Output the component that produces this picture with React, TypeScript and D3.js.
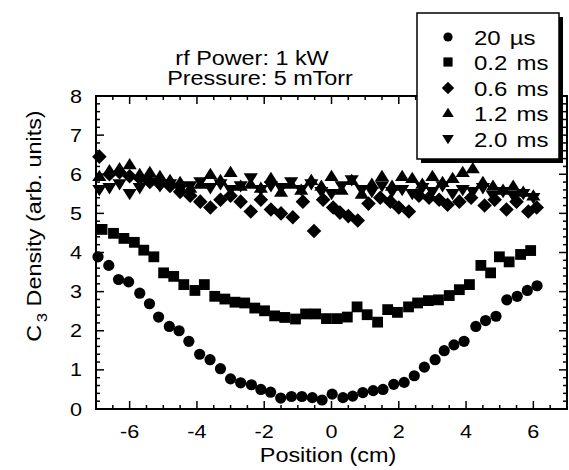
import React, { useEffect, useRef } from "react";
import * as d3 from "d3";

const seriesLabels = ["20 \u00b5s", "0.2 ms", "0.6 ms", "1.2 ms", "2.0 ms"];
const seriesShapes = ["circle", "square", "diamond", "triangle", "invtriangle"];

const s20us: [number, number][] = [
  [-6.94, 3.89], [-6.62, 3.67], [-6.33, 3.31], [-6.03, 3.25], [-5.70, 2.96], [-5.41, 2.69],
  [-5.14, 2.35], [-4.82, 2.11], [-4.53, 2.0], [-4.24, 1.73], [-3.92, 1.4], [-3.61, 1.26],
  [-3.30, 1.03], [-3.0, 0.77], [-2.70, 0.67], [-2.38, 0.62], [-2.10, 0.5], [-1.81, 0.43],
  [-1.51, 0.28], [-1.19, 0.32], [-0.88, 0.32], [-0.57, 0.29], [-0.28, 0.23], [0.02, 0.38],
  [0.34, 0.29], [0.63, 0.33], [0.93, 0.42], [1.24, 0.47], [1.53, 0.5], [1.85, 0.63],
  [2.16, 0.68], [2.46, 0.85], [2.76, 1.07], [3.08, 1.26], [3.35, 1.49], [3.64, 1.64],
  [3.94, 1.73], [4.29, 2.11], [4.58, 2.26], [4.89, 2.37], [5.21, 2.79], [5.52, 2.88],
  [5.82, 3.03], [6.11, 3.15],
];

const s02ms: [number, number][] = [
  [-6.82, 4.59], [-6.48, 4.49], [-6.17, 4.36], [-5.86, 4.26], [-5.58, 4.06], [-5.28, 3.89],
  [-4.99, 3.48], [-4.69, 3.39], [-4.39, 3.18], [-4.06, 3.03], [-3.78, 3.18], [-3.47, 2.88],
  [-3.17, 2.81], [-2.87, 2.73], [-2.58, 2.71], [-2.28, 2.58], [-1.99, 2.51], [-1.69, 2.38],
  [-1.39, 2.34], [-1.07, 2.3], [-0.77, 2.43], [-0.47, 2.43], [-0.15, 2.31], [0.17, 2.31],
  [0.47, 2.35], [0.76, 2.61], [1.06, 2.41], [1.37, 2.22], [1.67, 2.54], [1.96, 2.47],
  [2.29, 2.61], [2.56, 2.71], [2.88, 2.77], [3.18, 2.79], [3.5, 2.9], [3.8, 3.05],
  [4.1, 3.18], [4.44, 3.67], [4.73, 3.48], [4.99, 3.89], [5.28, 3.76], [5.62, 3.95],
  [5.92, 4.05],
];

const s06ms: [number, number][] = [
  [-6.9, 6.45], [-6.6, 6.0], [-6.3, 6.05], [-6.0, 5.95], [-5.7, 5.9], [-5.4, 5.8],
  [-5.1, 5.75], [-4.8, 5.7], [-4.5, 5.55], [-4.2, 5.45], [-3.9, 5.3], [-3.6, 5.15],
  [-3.3, 5.35], [-3.0, 5.45], [-2.7, 5.3], [-2.4, 5.05], [-2.1, 5.35], [-1.8, 5.1],
  [-1.5, 5.0], [-1.15, 4.9], [-0.85, 5.3], [-0.52, 4.55], [-0.25, 5.35], [0.05, 5.15],
  [0.25, 5.02], [0.5, 4.93], [0.78, 4.82], [1.1, 5.25], [1.45, 5.4], [1.75, 5.3],
  [2.0, 5.15], [2.3, 5.05], [2.6, 5.45], [2.9, 5.4], [3.2, 5.35], [3.45, 5.22],
  [3.8, 5.3], [4.15, 5.4], [4.55, 5.2], [4.85, 5.35], [5.2, 5.1], [5.5, 5.3],
  [5.85, 5.05], [6.1, 5.15],
];

const s12ms: [number, number][] = [
  [-6.9, 5.95], [-6.6, 6.1], [-6.3, 6.15], [-6.0, 6.25], [-5.7, 6.0], [-5.4, 6.05],
  [-5.1, 5.95], [-4.8, 5.85], [-4.5, 5.8], [-4.2, 5.65], [-3.9, 5.75], [-3.6, 6.0],
  [-3.3, 5.85], [-3.0, 6.05], [-2.7, 5.7], [-2.4, 5.75], [-2.1, 5.65], [-1.8, 5.9],
  [-1.5, 5.55], [-1.2, 5.75], [-0.9, 5.6], [-0.6, 5.85], [-0.3, 5.7], [0.0, 5.95],
  [0.3, 5.6], [0.6, 5.85], [0.9, 5.5], [1.2, 5.75], [1.5, 5.95], [1.8, 5.7],
  [2.1, 5.95], [2.4, 5.9], [2.7, 5.75], [3.0, 5.95], [3.3, 5.8], [3.6, 5.9],
  [3.9, 6.05], [4.2, 6.15], [4.5, 5.8], [4.8, 5.7], [5.1, 5.6], [5.4, 5.7],
  [5.7, 5.55], [6.0, 5.45],
];

const s20ms: [number, number][] = [
  [-6.9, 5.6], [-6.6, 5.65], [-6.3, 5.75], [-6.0, 5.5], [-5.7, 5.65], [-5.4, 5.8],
  [-5.1, 5.7], [-4.8, 5.75], [-4.5, 5.6], [-4.2, 5.7], [-3.9, 5.8], [-3.6, 5.65],
  [-3.3, 5.75], [-3.0, 5.6], [-2.7, 5.7], [-2.4, 5.9], [-2.1, 5.6], [-1.8, 5.7],
  [-1.5, 5.65], [-1.2, 5.8], [-0.9, 5.6], [-0.6, 5.75], [-0.3, 5.55], [0.0, 5.5],
  [0.3, 5.7], [0.6, 5.85], [0.9, 5.6], [1.2, 5.55], [1.5, 5.7], [1.8, 5.55],
  [2.1, 5.6], [2.4, 5.5], [2.7, 5.65], [3.0, 5.55], [3.3, 5.7], [3.6, 5.5],
  [3.9, 5.6], [4.2, 5.55], [4.5, 5.65], [4.8, 5.45], [5.1, 5.55], [5.4, 5.45],
  [5.7, 5.5], [6.0, 5.4],
];

const allSeries = [s20us, s02ms, s06ms, s12ms, s20ms];
const xTicks = [-6, -4, -2, 0, 2, 4, 6];
const yTicks = [0, 1, 2, 3, 4, 5, 6, 7, 8];

const FONT = "'Liberation Sans', Arial, Helvetica, sans-serif";
const SX = 1.2;

function shapePath(shape: string, s: number): string {
  switch (shape) {
    case "circle":
      return d3.symbol(d3.symbolCircle, Math.PI * s * s)() as string;
    case "square":
      return `M${-s},${-s}L${s},${-s}L${s},${s}L${-s},${s}Z`;
    case "diamond": {
      const d = s * 1.35;
      return `M0,${-d}L${d},0L0,${d}L${-d},0Z`;
    }
    case "triangle": {
      const h = s * 1.15;
      return `M0,${-h}L${h * 1.1},${h * 0.75}L${-h * 1.1},${h * 0.75}Z`;
    }
    default: {
      const h = s * 1.15;
      return `M0,${h}L${h * 1.1},${-h * 0.75}L${-h * 1.1},${-h * 0.75}Z`;
    }
  }
}

function addText(parent: any, x: number, y: number, str: string, size: number, anchor: string, extra = "") {
  return parent
    .append("g")
    .attr("transform", `translate(${x},${y}) ${extra} scale(${SX},1)`)
    .append("text")
    .attr("x", 0)
    .attr("y", 0)
    .attr("text-anchor", anchor)
    .attr("font-family", FONT)
    .attr("font-size", size)
    .text(str);
}

export default function App() {
  const ref = useRef<SVGSVGElement>(null);

  useEffect(() => {
    const svg = d3.select(ref.current);
    svg.selectAll("*").remove();

    const L = 96, R = 567, T = 96, B = 409;
    const x = d3.scaleLinear().domain([-7, 7]).range([L, R]);
    const y = d3.scaleLinear().domain([0, 8]).range([B, T]);

    const g = svg.append("g");

    // data
    const sizes = [5.6, 5.4, 5.4, 5.6, 5.6];
    allSeries.forEach((data, i) => {
      g.append("g")
        .selectAll("path")
        .data(data)
        .join("path")
        .attr("d", shapePath(seriesShapes[i], sizes[i]))
        .attr("transform", (d) => `translate(${x(d[0])},${y(d[1])})`)
        .attr("fill", "#000");
    });

    // frame
    g.append("rect")
      .attr("x", L).attr("y", T).attr("width", R - L).attr("height", B - T)
      .attr("fill", "none").attr("stroke", "#000").attr("stroke-width", 2);

    // ticks
    const xMinor = d3.range(-7, 7.001, 0.5);
    const yMinor = d3.range(0, 8.001, 0.2);
    const tk = g.append("g").attr("stroke", "#000").attr("stroke-width", 1.5);
    xMinor.forEach((v) => {
      const major = Math.abs(v % 2) < 1e-6;
      const len = major ? 8 : 4;
      tk.append("line").attr("x1", x(v)).attr("x2", x(v)).attr("y1", B).attr("y2", B - len);
      tk.append("line").attr("x1", x(v)).attr("x2", x(v)).attr("y1", T).attr("y2", T + len);
    });
    yMinor.forEach((v) => {
      const major = Math.abs(v - Math.round(v)) < 1e-6;
      const len = major ? 8 : 4;
      tk.append("line").attr("y1", y(v)).attr("y2", y(v)).attr("x1", L).attr("x2", L + len);
      tk.append("line").attr("y1", y(v)).attr("y2", y(v)).attr("x1", R).attr("x2", R - len);
    });

    // tick labels
    xTicks.forEach((d) => addText(g, x(d), 438, String(d), 18, "middle"));
    yTicks.forEach((d) => addText(g, 82, y(d) + 6.5, String(d), 18, "end"));

    // axis titles
    addText(g, 328, 462, "Position (cm)", 19.5, "middle");
    const yl = g
      .append("g")
      .attr("transform", `translate(41,226) rotate(-90) scale(${SX},1)`)
      .append("text")
      .attr("text-anchor", "middle")
      .attr("font-family", FONT)
      .attr("font-size", 19.5);
    yl.append("tspan").text("C");
    yl.append("tspan").attr("font-size", 14).attr("dy", 6).attr("dx", 2).text("3");
    yl.append("tspan").attr("dy", -6).text(" Density (arb. units)");

    // title
    addText(g, 252, 65, "rf Power: 1 kW", 19.5, "middle");
    addText(g, 260, 85, "Pressure: 5 mTorr", 19.5, "middle");

    // legend
    const lx = 417, ly = 13, lw = 142, lh = 146;
    g.append("rect").attr("x", lx + 4).attr("y", ly + 4).attr("width", lw).attr("height", lh).attr("fill", "#000");
    g.append("rect").attr("x", lx).attr("y", ly).attr("width", lw).attr("height", lh)
      .attr("fill", "#fff").attr("stroke", "#000").attr("stroke-width", 1.5);
    const rows = [37, 62, 88, 113, 139];
    seriesLabels.forEach((lab, i) => {
      g.append("path")
        .attr("d", shapePath(seriesShapes[i], 4.6))
        .attr("transform", `translate(448,${rows[i]})`)
        .attr("fill", "#000");
      addText(g, 474, rows[i] + 7.5, lab, 20, "start").attr("word-spacing", 2);
    });
  }, []);

  return (
    <svg
      ref={ref}
      width={569}
      height={470}
      style={{ position: "absolute", left: 0, top: 0, background: "#fff" }}
    />
  );
}
